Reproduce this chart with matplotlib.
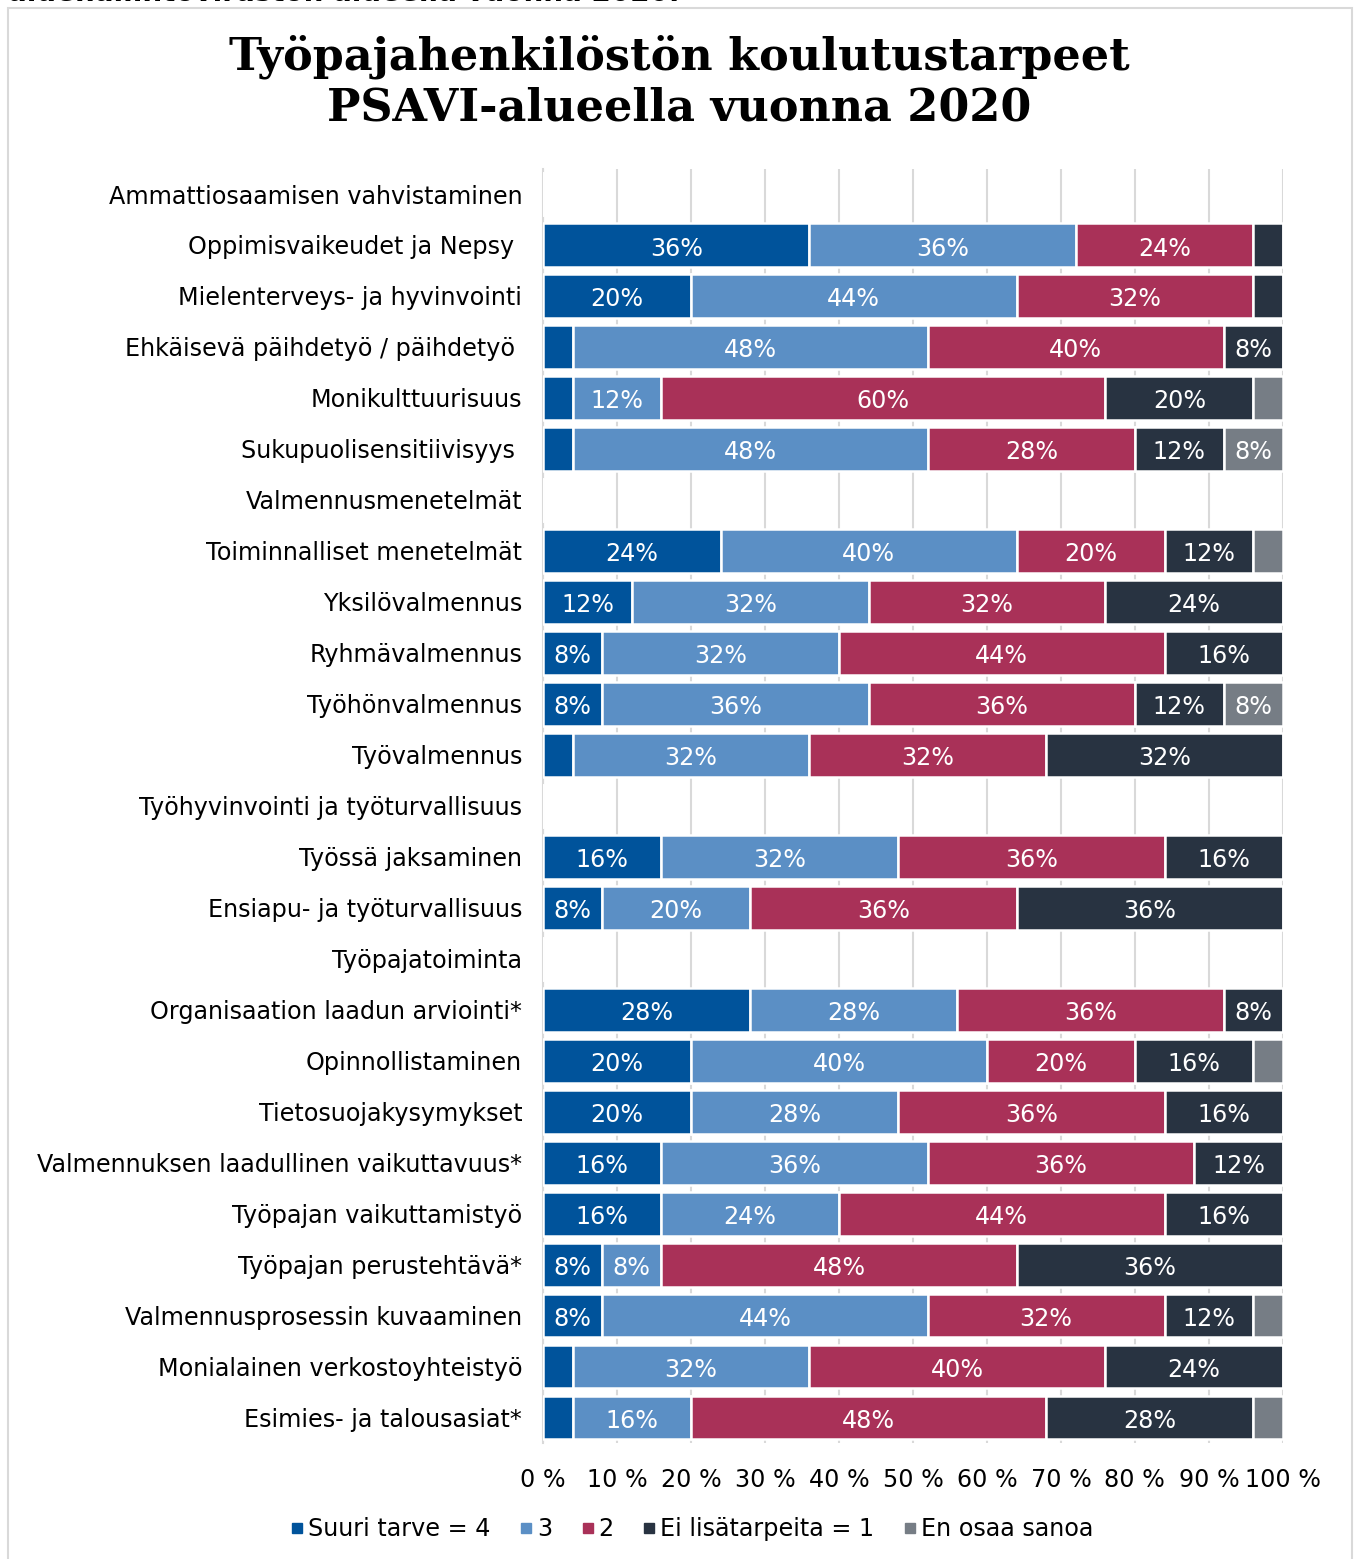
import matplotlib.pyplot as plt
import matplotlib.patches as patches
from matplotlib.lines import Line2D
import numpy as np

# categories top -> bottom (header rows have no data)
categories = [
    "Ammattiosaamisen vahvistaminen",
    "Oppimisvaikeudet ja Nepsy ",
    "Mielenterveys- ja hyvinvointi",
    "Ehkäisevä päihdetyö / päihdetyö ",
    "Monikulttuurisuus",
    "Sukupuolisensitiivisyys ",
    "Valmennusmenetelmät",
    "Toiminnalliset menetelmät",
    "Yksilövalmennus",
    "Ryhmävalmennus",
    "Työhönvalmennus",
    "Työvalmennus",
    "Työhyvinvointi ja työturvallisuus",
    "Työssä jaksaminen",
    "Ensiapu- ja työturvallisuus",
    "Työpajatoiminta",
    "Organisaation laadun arviointi*",
    "Opinnollistaminen",
    "Tietosuojakysymykset",
    "Valmennuksen laadullinen vaikuttavuus*",
    "Työpajan vaikuttamistyö",
    "Työpajan perustehtävä*",
    "Valmennusprosessin kuvaaminen",
    "Monialainen verkostoyhteistyö",
    "Esimies- ja talousasiat*",
]

suuri_tarve = [0, 36, 20, 4, 4, 4, 0, 24, 12, 8, 8, 4, 0, 16, 8, 0, 28, 20, 20, 16, 16, 8, 8, 4, 4]
tarve_3     = [0, 36, 44, 48, 12, 48, 0, 40, 32, 32, 36, 32, 0, 32, 20, 0, 28, 40, 28, 36, 24, 8, 44, 32, 16]
tarve_2     = [0, 24, 32, 40, 60, 28, 0, 20, 32, 44, 36, 32, 0, 36, 36, 0, 36, 20, 36, 36, 44, 48, 32, 40, 48]
ei_lisa     = [0, 4, 4, 8, 20, 12, 0, 12, 24, 16, 12, 32, 0, 16, 36, 0, 8, 16, 16, 12, 16, 36, 12, 24, 28]
en_osaa     = [0, 0, 0, 0, 4, 8, 0, 4, 0, 0, 8, 0, 0, 0, 0, 0, 0, 4, 0, 0, 0, 0, 4, 0, 4]

series_names = ["Suuri tarve = 4", "3", "2", "Ei lisätarpeita = 1", "En osaa sanoa"]
series = [suuri_tarve, tarve_3, tarve_2, ei_lisa, en_osaa]
colors = ["#00539b", "#5b8fc5", "#a93158", "#283341", "#767d85"]

fs = 17.2

fig = plt.figure(figsize=(13.59, 15.59), dpi=100)
ax = fig.add_axes([0.3996, 0.0744, 0.5444, 0.8175])

# outer frame of the picture
fig.patches.append(patches.Rectangle((8 / 1359, -0.05), 1344 / 1359, 1.05 - 8 / 1559,
                                     transform=fig.transFigure, fill=False,
                                     edgecolor="#d9d9d9", linewidth=1.5))

# clipped caption from the page above (only its lower edge shows)
fig.text(8 / 1359, 1.0 - 1 / 1559, "aluehallintoviraston alueella vuonna 2020.",
         fontsize=20, fontweight="bold", ha="left", va="baseline")

y = np.arange(len(categories))
left = np.zeros(len(categories))
for vals, name, col in zip(series, series_names, colors):
    vals = np.array(vals, dtype=float)
    ax.barh(y, vals, left=left, height=0.86, color=col,
            edgecolor="white", linewidth=1.8, zorder=3, label=name)
    for yi, v, l in zip(y, vals, left):
        if v >= 8:
            ax.text(l + v / 2, yi + 0.02, f"{int(v)}%", ha="center", va="center_baseline",
                    color="white", fontsize=fs, zorder=4)
    left += vals

ax.set_xlim(0, 100)
ax.set_ylim(len(categories) - 0.5, -0.5)
ax.set_xticks(np.arange(0, 101, 10))
ax.set_xticklabels([f"{t} %" for t in range(0, 101, 10)], fontsize=fs)
ax.set_yticks(y)
ax.set_yticklabels(categories, fontsize=fs)
ax.tick_params(axis="y", length=0, pad=15)
ax.tick_params(axis="x", length=0, pad=18)
ax.grid(axis="x", color="#d9d9d9", linewidth=1.5, zorder=0)
for s in ["top", "right", "bottom"]:
    ax.spines[s].set_visible(False)
ax.spines["left"].set_color("#d9d9d9")
ax.spines["left"].set_linewidth(1.5)

fig.text(0.5, 1 - 82 / 1559, "Työpajahenkilöstön koulutustarpeet\nPSAVI-alueella vuonna 2020",
         ha="center", va="center", fontsize=32, fontweight="bold",
         family="DejaVu Serif", linespacing=1.2)

handles = [Line2D([0], [0], marker="s", linestyle="", color=c, markersize=7) for c in colors]
fig.legend(handles, series_names, loc="center", bbox_to_anchor=(0.508, 1 - 1529 / 1559),
           ncol=5, frameon=False, fontsize=fs, handletextpad=0.05, columnspacing=1.1,
           handlelength=0.8)

fig.savefig("out.png", dpi=100)
